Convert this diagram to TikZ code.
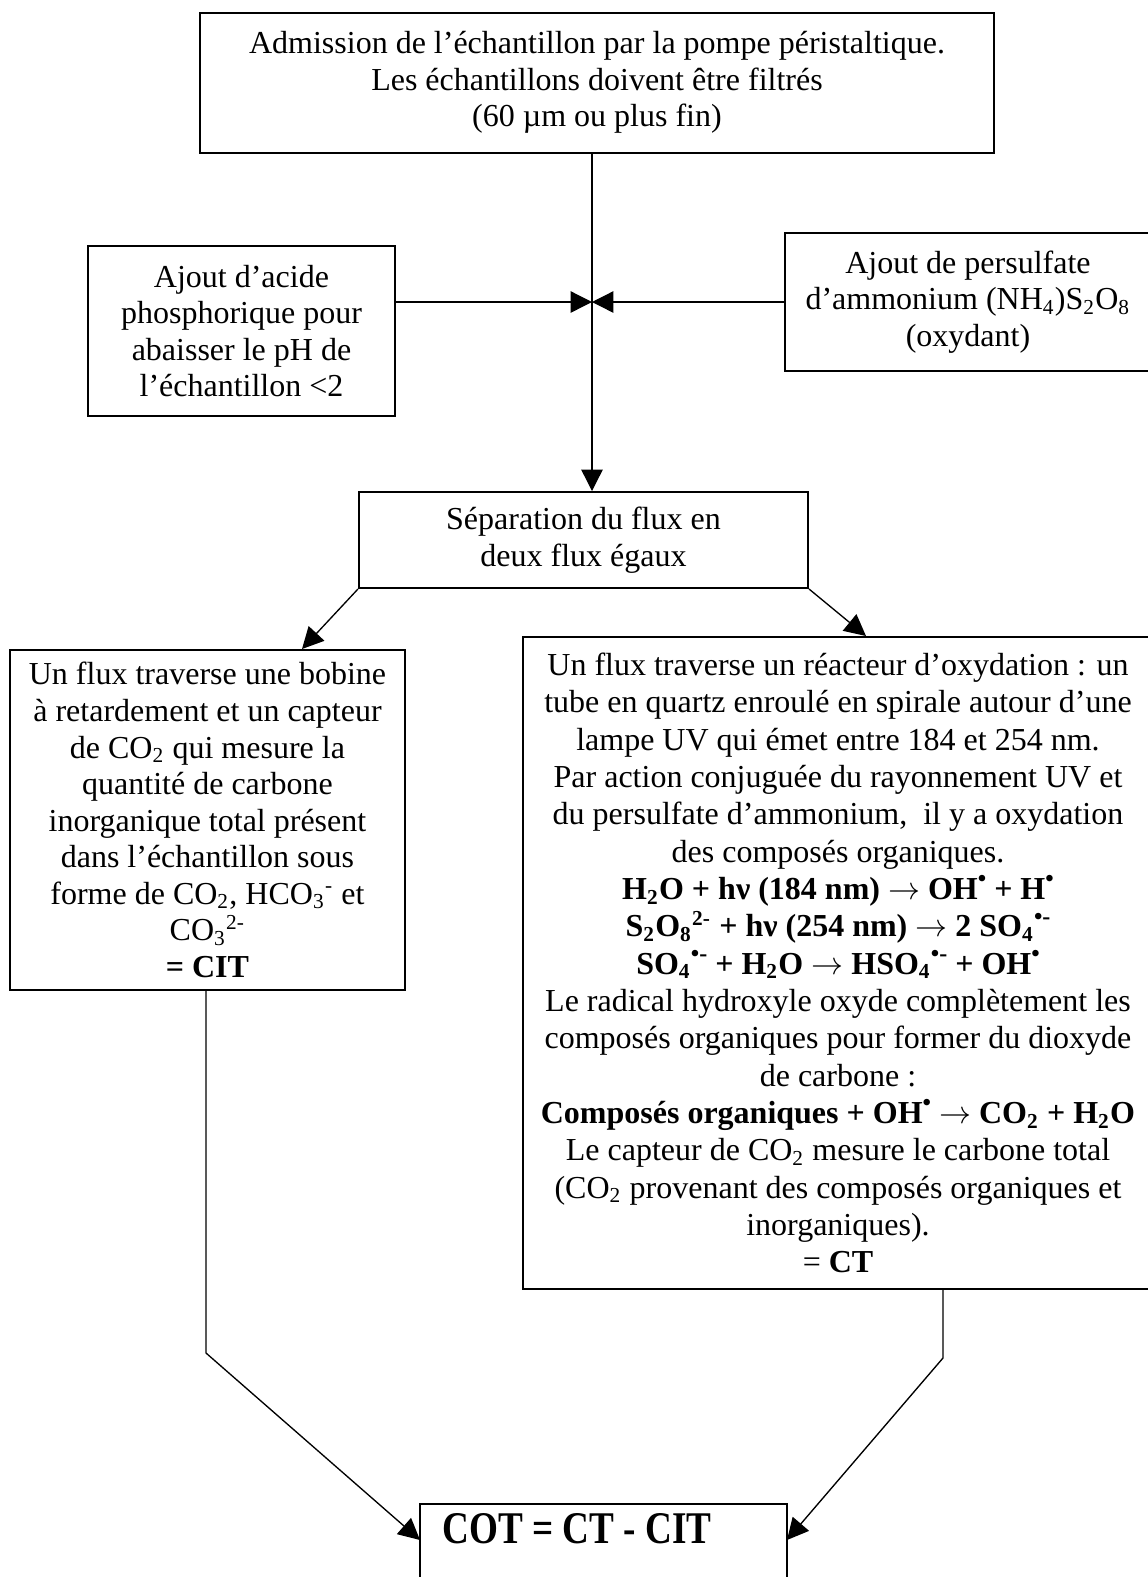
\documentclass[tikz,border=0pt]{standalone}
\usepackage{fontspec}
\usepackage{graphicx}
\setmainfont{Liberation Serif}
\usetikzlibrary{arrows.meta}
\newcommand{\rarr}{\ensuremath{\rightarrow}}
\newcommand{\rad}{\raisebox{0.85ex}{\fontsize{9}{9}\selectfont•}}
\newcommand{\radm}{\raisebox{0.85ex}{\fontsize{9}{9}\selectfont•-}}
\begin{document}
\begin{tikzpicture}[x=0.375pt,y=-0.375pt,
  box/.style={draw, line width=0.75pt, align=center, inner sep=0pt, font=\fontsize{12}{13.7}\selectfont},
  bigbox/.style={box, font=\fontsize{12}{14}\selectfont},
  conn/.style={line width=0.5pt},
  arr/.style={conn, -{Triangle[length=8pt,width=8pt]}}]
\useasboundingbox (0,0) rectangle (1148,1577);
\clip (0,0) rectangle (1148,1577);

\node[box, minimum width=297.75pt, minimum height=52.5pt] (top) at (597,82.5)
  {Admission de l’échantillon par la pompe péristaltique.\\Les échantillons doivent être filtrés\\(60 µm ou plus fin)};

\node[box, minimum width=115.1pt, minimum height=63.4pt] (acid) at (241.5,331)
  {Ajout d’acide\\phosphorique pour\\abaisser le pH de\\l’échantillon <2};

\node[box, minimum width=137.25pt, minimum height=52.1pt] (pers) at (968,302)
  {Ajout de persulfate\\d’ammonium (NH\textsubscript{4})S\textsubscript{2}O\textsubscript{8}\\(oxydant)};

\node[box, minimum width=168.4pt, minimum height=36pt] (sep) at (583.5,540)
  {Séparation du flux en\\deux flux égaux};

\node[box, minimum width=148.1pt, minimum height=127.5pt] (cit) at (207.5,820)
  {Un flux traverse une bobine\\à retardement et un capteur\\de CO\textsubscript{2} qui mesure la\\quantité de carbone\\inorganique total présent\\dans l’échantillon sous\\forme de CO\textsubscript{2}, HCO\textsubscript{3}\textsuperscript{-} et\\CO\textsubscript{3}\textsuperscript{2-}\\\textbf{= CIT}};

\node[bigbox, minimum width=236.25pt, minimum height=244.5pt] (ox) at (838,963)
  {Un flux traverse un réacteur d’oxydation : un\\
   tube en quartz enroulé en spirale autour d’une\\
   lampe UV qui émet entre 184 et 254 nm.\\
   Par action conjuguée du rayonnement UV et\\
   du persulfate d’ammonium, \ il y a oxydation\\
   des composés organiques.\\
   \textbf{H\textsubscript{2}O + hν (184 nm) \rarr{} OH\rad{} + H\rad}\\
   \textbf{S\textsubscript{2}O\textsubscript{8}\textsuperscript{2-} + hν (254 nm) \rarr{} 2 SO\textsubscript{4}\radm}\\
   \textbf{SO\textsubscript{4}\radm{} + H\textsubscript{2}O \rarr{} HSO\textsubscript{4}\radm{} + OH\rad}\\
   Le radical hydroxyle oxyde complètement les\\
   composés organiques pour former du dioxyde\\
   de carbone :\\
   \textbf{Composés organiques + OH\rad{} \rarr{} CO\textsubscript{2} + H\textsubscript{2}O}\\
   Le capteur de CO\textsubscript{2} mesure le carbone total\\
   (CO\textsubscript{2} provenant des composés organiques et\\
   inorganiques).\\
   = \textbf{CT}};

\node[box, minimum width=137.6pt, minimum height=36pt] (cot) at (603.5,1552) {};
\node[anchor=base west, inner sep=0pt] (cott) at (442,1543)
  {\scalebox{0.82}[1]{\fontsize{17}{20}\selectfont\bfseries COT = CT - CIT}};

% connectors
\coordinate (j) at (592,302);
\draw[arr] (top.south -| j) -- (sep.north -| j);
\draw[arr] (acid.east |- j) -- (j);
\draw[arr] (pers.west |- j) -- (j);

\coordinate (tl) at (302,649);
\coordinate (tr) at (866,636);
\draw[arr] (sep.south west) -- (tl);
\draw[arr] (sep.south east) -- (tr);

\coordinate (bl) at (206,1353);
\coordinate (cl) at (420,1540);
\coordinate (br) at (943,1358);
\coordinate (cr) at (787,1540);
\draw[arr] (cit.south -| bl) -- (bl) -- (cl);
\draw[arr] (ox.south -| br) -- (br) -- (cr);
\end{tikzpicture}
\end{document}
